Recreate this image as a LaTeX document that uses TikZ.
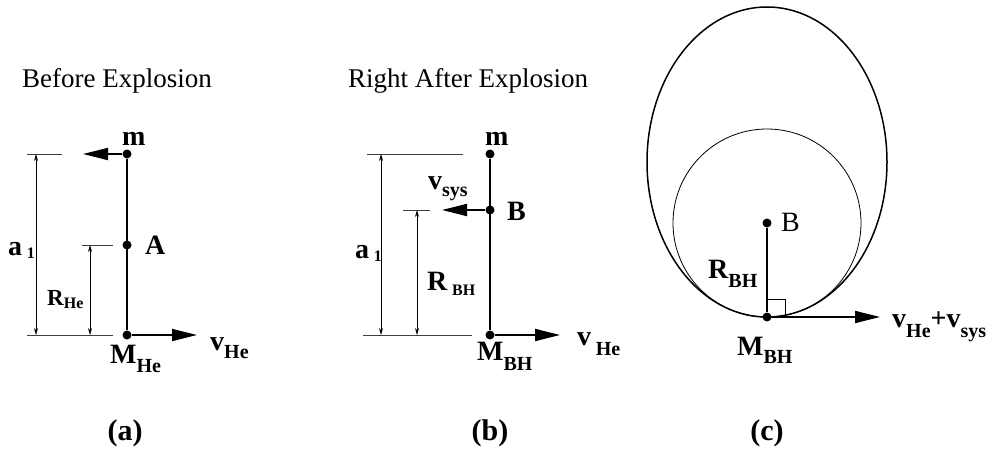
\documentclass[tikz,border=0pt]{standalone}
\usepackage{fontspec}
\setmainfont{Liberation Serif}
\usetikzlibrary{arrows.meta, positioning}
\newcommand{\lsub}[2][8pt]{\raisebox{-#1}{\fontsize{20}{20}\selectfont #2}}
\newcommand{\ssub}[2][3pt]{\raisebox{-#1}{\fontsize{16}{16}\selectfont #2}}

\tikzstyle{dot} = [circle, fill=black, inner sep=0pt, minimum size=9pt]
\tikzstyle{vel} = [line width=1.8pt, -{Triangle[length=25pt,width=12pt]}]
\tikzstyle{dim} = [line width=0.7pt, {Stealth[length=7pt,width=4pt]}-{Stealth[length=7pt,width=4pt]}]
\tikzstyle{ext} = [line width=0.8pt, black!75]

\begin{document}
\begin{tikzpicture}[x=1pt, y=-1pt,
    big/.style={anchor=base west, inner sep=0pt, font=\fontsize{28}{30}\selectfont\bfseries},
    title/.style={anchor=base west, inner sep=0pt, font=\fontsize{27}{30}\selectfont},
    tag/.style={anchor=base, inner sep=0pt, font=\fontsize{30}{32}\selectfont\bfseries}]
  \useasboundingbox (0,0) rectangle (993,452);

  % (a) before explosion
  \node[title] (title-a) at (22,87) {Before Explosion};
  \node[dot] (m-a) at (127,154) {};
  \node[dot] (A)   at (127,245) {};
  \node[dot] (M-a) at (127,335) {};
  \coordinate (m-a-v) at (83,154);
  \coordinate (M-a-v) at (197,335);
  \coordinate (a1-a-t) at (36,154);
  \coordinate (a1-a-b) at (36,335);
  \coordinate (R-a-t) at (90,245);
  \coordinate (R-a-b) at (90,335);

  \draw[line width=1.8pt] (m-a) -- (M-a);
  \draw[vel] (m-a) -- (m-a-v);
  \draw[vel] (M-a) -- (M-a-v);
  \draw[ext] (27,154) -- (62,154);
  \draw[ext] (27,335) -- (113,335);
  \draw[ext] (82,245) -- (113,245);
  \draw[dim] (a1-a-t) -- (a1-a-b);
  \draw[dim] (R-a-t) -- (R-a-b);

  \node[big] (lm-a)  at (122,145) {m};
  \node[big] (lA)    at (145,254) {A};
  \node[big] (la1-a) at (8,255)   {a\,\ssub{1}};
  \node[big] (lR-a)  at (47,305)  {\fontsize{23}{25}\selectfont R\ssub{He}};
  \node[big] (lM-a)  at (110,363) {M\lsub[9pt]{He}};
  \node[big] (lv-a)  at (210,350) {v\lsub{He}};
  \node[tag] (tag-a) at (125,440) {(a)};

  % (b) right after explosion
  \node[title] (title-b) at (348,87) {Right After Explosion};
  \node[dot] (m-b) at (490,154) {};
  \node[dot] (B-b) at (490,210) {};
  \node[dot] (M-b) at (490,335) {};
  \coordinate (B-b-v) at (442,210);
  \coordinate (M-b-v) at (560,335);
  \coordinate (a1-b-t) at (381,154);
  \coordinate (a1-b-b) at (381,335);
  \coordinate (R-b-t) at (417,210);
  \coordinate (R-b-b) at (417,335);

  \draw[line width=1.8pt] (m-b) -- (M-b);
  \draw[vel] (B-b) -- (B-b-v);
  \draw[vel] (M-b) -- (M-b-v);
  \draw[ext] (367,154) -- (463,154);
  \draw[ext] (363,335) -- (472,335);
  \draw[ext] (403,210) -- (430,210);
  \draw[dim] (a1-b-t) -- (a1-b-b);
  \draw[dim] (R-b-t) -- (R-b-b);

  \node[big] (lm-b)  at (485,145) {m};
  \node[big] (lvs-b) at (428,189) {v\lsub[7pt]{sys}};
  \node[big] (lB-b)  at (507,220) {B};
  \node[big] (la1-b) at (355,258) {a\,\ssub{1}};
  \node[big] (lR-b)  at (427,290) {R\,\ssub[5pt]{BH}};
  \node[big] (lM-b)  at (477,360) {M\lsub[10pt]{BH}};
  \node[big] (lv-b)  at (577,345) {v\,\lsub[10pt]{He}};
  \node[tag] (tag-b) at (490,440) {(b)};

  % (c) orbit
  \node[dot] (B-c) at (767,223) {};
  \node[dot] (M-c) at (767,317) {};
  \coordinate (M-c-v) at (880,317);
  \draw[line width=1.5pt] (767,162) ellipse [x radius=120pt, y radius=155pt];
  \draw[line width=0.8pt] (B-c.center) circle [radius=94pt];
  \draw[line width=1.2pt] (B-c) -- (M-c);
  \draw[line width=0.8pt] ([yshift=18pt]M-c.center) -| ([xshift=18pt]M-c.center);
  \draw[vel] (M-c) -- (M-c-v);

  \node[big, font=\fontsize{28}{30}\selectfont] (lB-c) at (781,231) {B};
  \node[big] (lR-c)  at (708,278) {R\lsub[9pt]{BH}};
  \node[big] (lM-c)  at (737,355) {M\lsub[8pt]{BH}};
  \node[big] (lv-c)  at (892,327) {v\lsub[10pt]{He}+v\lsub[10pt]{sys}};
  \node[tag] (tag-c) at (767,440) {(c)};
\end{tikzpicture}
\end{document}
